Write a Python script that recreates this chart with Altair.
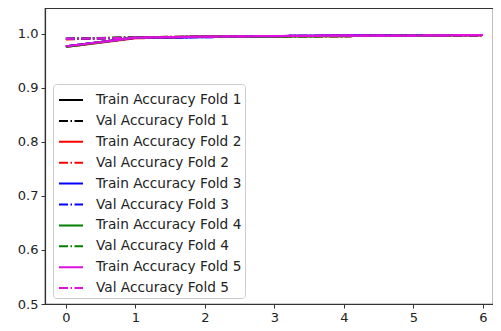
import altair as alt
import pandas as pd

epochs = [0, 1, 2, 3, 4, 5, 6]
folds = [1, 2, 3, 4, 5]
train_acc = {
    1: [0.977, 0.993, 0.995, 0.996, 0.997, 0.997, 0.998],
    2: [0.976, 0.992, 0.995, 0.996, 0.996, 0.997, 0.998],
    3: [0.977, 0.993, 0.994, 0.996, 0.997, 0.998, 0.998],
    4: [0.976, 0.993, 0.995, 0.995, 0.996, 0.997, 0.998],
    5: [0.977, 0.993, 0.995, 0.996, 0.997, 0.997, 0.998],
}
val_acc = {
    1: [0.991, 0.993, 0.995, 0.996, 0.996, 0.997, 0.998],
    2: [0.990, 0.994, 0.995, 0.995, 0.996, 0.997, 0.997],
    3: [0.991, 0.993, 0.994, 0.996, 0.997, 0.997, 0.998],
    4: [0.991, 0.994, 0.995, 0.996, 0.996, 0.997, 0.998],
    5: [0.991, 0.993, 0.995, 0.996, 0.997, 0.997, 0.998],
}
fold_colors = ["#000000", "#ff0000", "#0000ff", "#008000", "#e010e0"]

rows = []
names, colors, dashes = [], [], []
for i, f in enumerate(folds):
    for kind, src in (("Train", train_acc), ("Val", val_acc)):
        name = f"{kind} Accuracy Fold {f}"
        names.append(name)
        colors.append(fold_colors[i])
        dashes.append([1, 0] if kind == "Train" else [9, 2.5, 1.5, 2.5])
        for e, v in zip(epochs, src[f]):
            rows.append({"epoch": e, "acc": v, "series": name, "order": len(names)})
df = pd.DataFrame(rows)

legend = alt.Legend(
    title=None, orient="none", legendX=8, legendY=76,
    symbolType="stroke", symbolSize=576, symbolStrokeWidth=2, symbolOffset=2,
    rowPadding=0.9, labelFont="DejaVu Sans", labelFontSize=13.7,
    labelColor="#222222", labelOffset=12,
    padding=3, strokeColor="#cccccc", fillColor="white", cornerRadius=3,
)

chart = alt.Chart(df).mark_line(strokeWidth=2.2, clip=True).encode(
    x=alt.X("epoch:Q", scale=alt.Scale(domain=[-0.3, 6.144], nice=False, zero=False),
            axis=alt.Axis(values=epochs, title=None, grid=False, format="d")),
    y=alt.Y("acc:Q", scale=alt.Scale(domain=[0.5, 1.048], nice=False, zero=False),
            axis=alt.Axis(values=[0.5, 0.6, 0.7, 0.8, 0.9, 1.0], title=None, grid=False, format=".1f")),
    color=alt.Color("series:N", sort=names, scale=alt.Scale(domain=names, range=colors), legend=legend),
    strokeDash=alt.StrokeDash("series:N", sort=names, scale=alt.Scale(domain=names, range=dashes), legend=legend),
    order="order:Q",
    detail="series:N",
).properties(
    width=448, height=296,
    autosize=alt.AutoSizeParams(type="none"),
    padding={"left": 37, "top": 0, "right": 0, "bottom": 27},
).configure_view(
    stroke="#333333", strokeWidth=1.2
).configure_axis(
    labelFont="DejaVu Sans", labelFontSize=13, labelColor="#222222",
    domainColor="#333333", tickColor="#333333", tickSize=4, labelPadding=3,
    domainWidth=1.2,
)

chart.save("out.html", embed_options={"renderer": "svg", "actions": False})
